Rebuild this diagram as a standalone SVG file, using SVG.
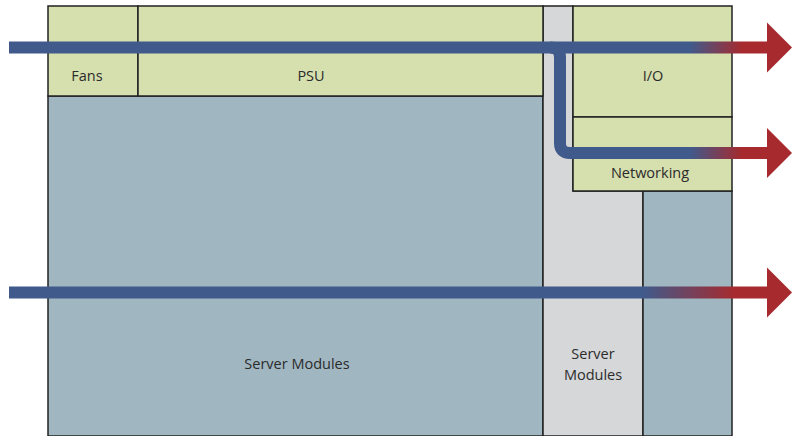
<svg xmlns="http://www.w3.org/2000/svg" width="792" height="436" viewBox="0 0 792 436">
  <style>
    .box { stroke: #222; stroke-width: 1.5; }
    .green { fill: #d6dfae; }
    .blue { fill: #a0b6c1; }
    .gray { fill: #d6d7d9; }
    .label { font-family: "Open Sans", "Liberation Sans", sans-serif; font-size: 14.5px; fill: #2b2b2b; text-anchor: middle; }
    .flow { fill: none; stroke-width: 12; }
    .head { fill: #a62a2e; }
  </style>
  <defs>
    <linearGradient id="gradTop" gradientUnits="userSpaceOnUse" x1="690" y1="0" x2="742" y2="0">
      <stop offset="0" stop-color="#405a8b"/>
      <stop offset="1" stop-color="#a62a2e"/>
    </linearGradient>
    <linearGradient id="gradBottom" gradientUnits="userSpaceOnUse" x1="643" y1="0" x2="735" y2="0">
      <stop offset="0" stop-color="#405a8b"/>
      <stop offset="1" stop-color="#a62a2e"/>
    </linearGradient>
  </defs>

  <g id="server-modules-main">
    <rect class="box blue" x="48" y="96" width="495" height="340"/>
    <text class="label" x="297" y="369">Server Modules</text>
  </g>
  <g id="server-modules-side">
    <path class="box gray" d="M543 6 H573 V191 H643 V436 H543 Z"/>
    <text class="label" x="593" y="359">Server</text>
    <text class="label" x="593" y="380">Modules</text>
  </g>
  <g id="right-column">
    <rect class="box blue" x="643" y="191" width="89" height="245"/>
  </g>
  <g id="fans">
    <rect class="box green" x="48" y="6" width="90" height="90"/>
    <text class="label" x="87" y="81">Fans</text>
  </g>
  <g id="psu">
    <rect class="box green" x="138" y="6" width="405" height="90"/>
    <text class="label" x="311" y="81">PSU</text>
  </g>
  <g id="io">
    <rect class="box green" x="573" y="6" width="159" height="111"/>
    <text class="label" x="653" y="81">I/O</text>
  </g>
  <g id="networking">
    <rect class="box green" x="573" y="117" width="159" height="74"/>
    <text class="label" x="650" y="178">Networking</text>
  </g>

  <g id="connectors">
    <!-- upper airflow, with branch down to networking -->
    <path class="flow" stroke="url(#gradTop)" d="M9 47.5 H768"/>
    <path class="flow" stroke="url(#gradTop)" d="M550 47.5 Q560 47.5 560 57.5 V143 Q560 153 570 153 H768"/>
    <polygon class="head" points="767,22.5 792,47.5 767,72.5"/>
    <polygon class="head" points="767,128 792,153 767,178"/>
    <!-- lower airflow -->
    <path class="flow" stroke="url(#gradBottom)" d="M9 292.5 H768"/>
    <polygon class="head" points="767,267.5 792,292.5 767,317.5"/>
  </g>
</svg>
